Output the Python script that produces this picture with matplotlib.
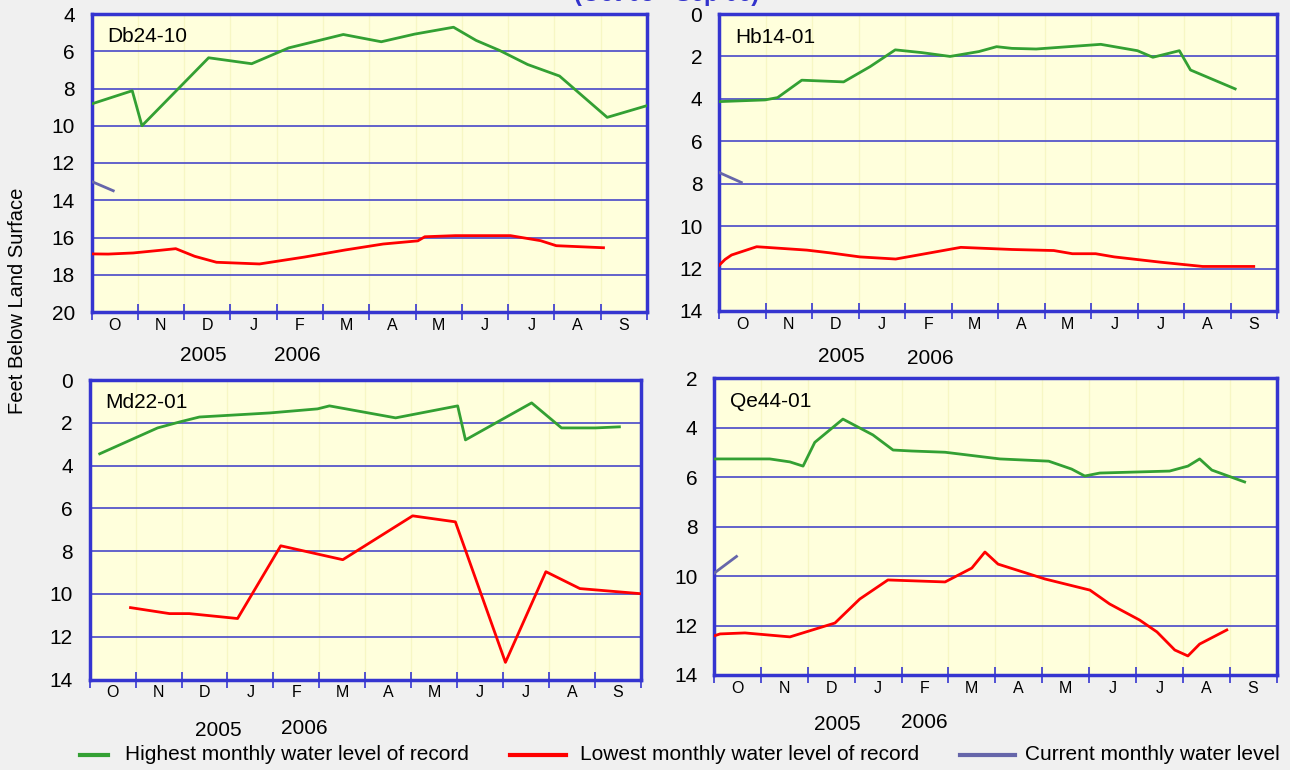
import matplotlib
matplotlib.use("Agg")
import matplotlib.pyplot as plt
import numpy as np

plt.rcParams['font.family'] = ['Liberation Sans', 'DejaVu Sans']

MONTHS = ['O', 'N', 'D', 'J', 'F', 'M', 'A', 'M', 'J', 'J', 'A', 'S']
YEARS = ['2005', '2006']

# x values are months since 1 Oct 2005, y values are feet below land surface
db_high_x = [0, 0.88, 1.09, 2.53, 3.46, 4.26, 5.44, 6.26, 6.98, 7.82, 8.31, 8.81, 9.42, 10.11, 11.14, 12]
db_high_y = [8.83, 8.12, 10.0, 6.35, 6.67, 5.82, 5.1, 5.49, 5.08, 4.71, 5.42, 5.95, 6.71, 7.33, 9.55, 8.92]
db_low_x = [0, 0.36, 0.9, 1.47, 1.82, 2.23, 2.7, 3.63, 4.6, 5.48, 6.3, 7.05, 7.2, 7.86, 9.05, 9.7, 10.04, 11.06]
db_low_y = [16.88, 16.89, 16.83, 16.69, 16.6, 17.01, 17.33, 17.42, 17.05, 16.67, 16.35, 16.18, 15.96, 15.9, 15.9, 16.17, 16.44, 16.55]
db_cur_x = [0, 0.47]
db_cur_y = [12.99, 13.49]

hb_high_x = [0, 0.99, 1.26, 1.78, 2.68, 3.25, 3.79, 4.36, 4.97, 5.59, 5.97, 6.3, 6.82, 8.21, 9.0, 9.33, 9.9, 10.14, 11.1]
hb_high_y = [4.13, 4.05, 3.94, 3.12, 3.2, 2.48, 1.69, 1.82, 2.0, 1.77, 1.54, 1.62, 1.65, 1.43, 1.73, 2.04, 1.73, 2.64, 3.53]
hb_low_x = [0, 0.13, 0.27, 0.81, 1.89, 2.39, 3.03, 3.8, 5.2, 6.3, 7.2, 7.6, 8.1, 8.5, 9.5, 10.4, 11.5]
hb_low_y = [11.85, 11.57, 11.36, 10.97, 11.13, 11.26, 11.45, 11.55, 11.0, 11.1, 11.15, 11.3, 11.3, 11.45, 11.7, 11.9, 11.9]
hb_cur_x = [0, 0.48]
hb_cur_y = [7.47, 7.94]

md_high_x = [0.22, 1.48, 1.96, 2.39, 3.92, 4.96, 5.22, 6.66, 8.01, 8.18, 9.62, 10.27, 11.01, 11.53]
md_high_y = [3.45, 2.24, 1.96, 1.73, 1.54, 1.35, 1.21, 1.77, 1.21, 2.8, 1.07, 2.24, 2.24, 2.19]
md_low_x = [0.89, 1.74, 2.17, 3.22, 4.16, 5.51, 7.03, 7.96, 9.05, 9.93, 10.67, 12]
md_low_y = [10.64, 10.92, 10.92, 11.15, 7.75, 8.4, 6.35, 6.63, 13.2, 8.96, 9.75, 9.99]

qe_high_x = [0, 1.19, 1.62, 1.9, 2.15, 2.75, 3.39, 3.82, 4.22, 4.93, 6.1, 7.14, 7.63, 7.91, 8.23, 9.72, 10.11, 10.36, 10.62, 11.32]
qe_high_y = [5.27, 5.27, 5.39, 5.56, 4.6, 3.66, 4.3, 4.91, 4.95, 5.0, 5.27, 5.36, 5.68, 5.96, 5.84, 5.76, 5.56, 5.27, 5.72, 6.2]
qe_low_x = [0, 0.13, 0.66, 1.62, 2.58, 3.11, 3.71, 4.93, 5.5, 5.78, 6.06, 7.06, 8.02, 8.44, 9.08, 9.45, 9.83, 10.11, 10.36, 10.94]
qe_low_y = [12.42, 12.34, 12.3, 12.46, 11.9, 10.93, 10.16, 10.24, 9.68, 9.03, 9.52, 10.12, 10.57, 11.13, 11.78, 12.26, 12.99, 13.23, 12.75, 12.18]
qe_cur_x = [0, 0.48]
qe_cur_y = [9.89, 9.21]

GREEN = '#33a033'
RED = '#ff0000'
PURPLE = '#6666aa'
BLUE = '#3535d0'
W, H = 1290, 770

fig = plt.figure(figsize=(W / 100, H / 100), dpi=100, facecolor='#f0f0f0')


def px_axes(left, top, right, bottom):
    return fig.add_axes([left / W, 1 - bottom / H, (right - left) / W, (bottom - top) / H])


def panel(box, name, ylim, high, low, cur, years_at):
    ax = px_axes(*box)
    ax.set_facecolor('#ffffdc')
    ax.plot(*high, color=GREEN, lw=2, zorder=3)
    ax.plot(*low, color=RED, lw=2, zorder=3)
    if cur is not None:
        ax.plot(*cur, color=PURPLE, lw=2, zorder=3)
    ax.set_xlim(0, 12)
    ax.set_ylim(ylim[1], ylim[0])
    ax.set_yticks(np.arange(ylim[0], ylim[1] + 1, 2))
    ax.set_xticks(np.arange(0, 13))
    ax.set_xticklabels([])
    ax.set_xticks(np.arange(12) + 0.5, minor=True)
    ax.set_xticklabels(MONTHS, minor=True, fontsize=11.5)
    ax.tick_params(axis='x', which='major', direction='inout', length=11, width=1.2, color=BLUE)
    ax.tick_params(axis='x', which='minor', length=0, pad=4)
    ax.tick_params(axis='y', length=0, pad=12, labelsize=15)
    for x in range(1, 12):
        ax.axvline(x, color='#f7f7c4', lw=0.9, zorder=1)
    for y in np.arange(ylim[0] + 2, ylim[1], 2):
        ax.axhline(y, color='#4848c8', lw=1.2, zorder=2)
    for s in ax.spines.values():
        s.set_color(BLUE)
        s.set_linewidth(2.5)
    ax.text(16 / (box[2] - box[0]), 1 - 23 / (box[3] - box[1]), name, transform=ax.transAxes,
            fontsize=15, va='center', ha='left')
    for (x, y), label in zip(years_at, YEARS):
        fig.text(x / W, 1 - y / H, label, fontsize=15, ha='center', va='center')
    return ax


panel((91.5, 14, 647, 312), 'Db24-10', (4, 20), (db_high_x, db_high_y), (db_low_x, db_low_y),
      (db_cur_x, db_cur_y), [(203, 356), (297, 356)])
panel((719, 14, 1277, 311), 'Hb14-01', (0, 14), (hb_high_x, hb_high_y), (hb_low_x, hb_low_y),
      (hb_cur_x, hb_cur_y), [(841, 357), (930, 359)])
panel((89.6, 380, 641, 679.5), 'Md22-01', (0, 14), (md_high_x, md_high_y), (md_low_x, md_low_y),
      None, [(218, 730), (304, 728)])
panel((714, 378, 1276.5, 675), 'Qe44-01', (2, 14), (qe_high_x, qe_high_y), (qe_low_x, qe_low_y),
      (qe_cur_x, qe_cur_y), [(837, 724), (924, 722)])

fig.text(18 / W, 1 - 301 / H, 'Feet Below Land Surface', rotation=90, fontsize=14.5,
         ha='center', va='center')

# title sits mostly above the top edge, only its lower part shows
fig.text(667 / W, 1 - 1 / H, '(Oct 05 - Sep 06)', color='#3333cc', fontsize=17,
         fontweight='bold', ha='center', va='baseline')

# legend drawn by hand along the bottom
leg = fig.add_axes([0, 0, 1, 1], facecolor='none')
leg.set_xlim(0, W)
leg.set_ylim(H, 0)
leg.axis('off')
items = [((80, 108), GREEN, 'Highest monthly water level of record', 125),
         ((510, 566), RED, 'Lowest monthly water level of record', 580),
         ((960, 1015), PURPLE, 'Current monthly water level', 1025)]
for (x0, x1), c, txt, tx in items:
    leg.plot([x0, x1], [755, 755], color=c, lw=3)
    leg.text(tx, 755, txt, fontsize=15, va='center', ha='left')

fig.savefig('out.png', dpi=100, facecolor=fig.get_facecolor())
